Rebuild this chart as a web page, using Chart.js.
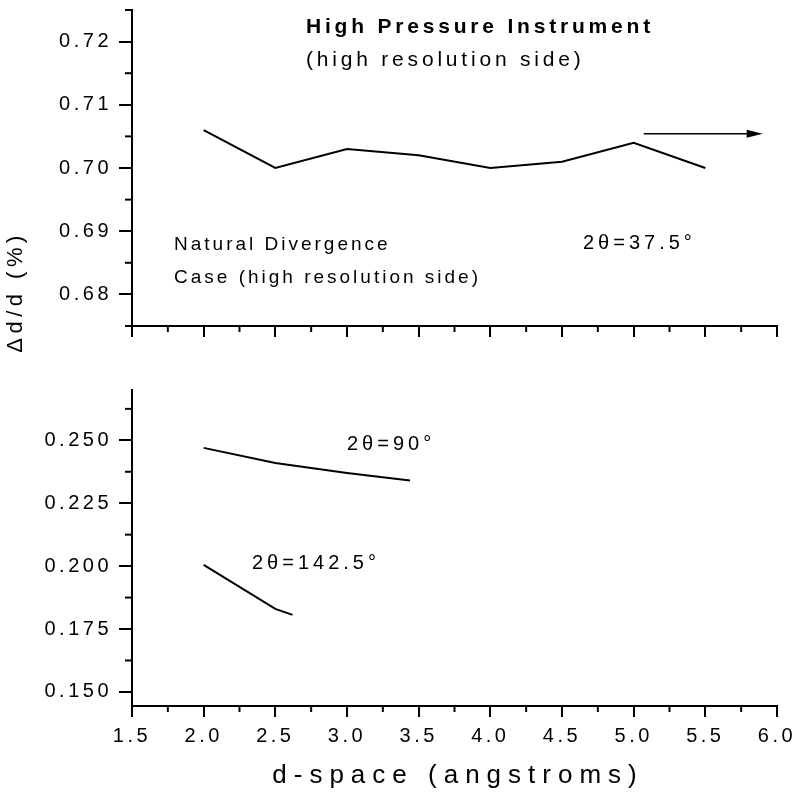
<!DOCTYPE html>
<html>
<head>
<meta charset="utf-8">
<script src="https://cdn.jsdelivr.net/npm/chart.js@4/dist/chart.umd.min.js"></script>
<style>
  html, body { margin: 0; padding: 0; background: #fff; }
  #wrap { position: relative; width: 796px; height: 792px; }
  #wrap canvas { position: absolute; left: 0; top: 0; }
</style>
</head>
<body>
<div id="wrap">
  <canvas id="chartTop" width="796" height="792"></canvas>
  <canvas id="chartBottom" width="796" height="792"></canvas>
</div>
<script>
// values
var dSpace375 = [2.0, 2.5, 3.0, 3.5, 4.0, 4.5, 5.0, 5.5];
var res375    = [0.706, 0.700, 0.703, 0.702, 0.700, 0.701, 0.704, 0.700];
var dSpace90  = [2.0, 2.5, 3.0, 3.44];
var res90     = [0.247, 0.241, 0.237, 0.234];
var dSpace1425 = [2.0, 2.5, 2.62];
var res1425    = [0.2005, 0.183, 0.1806];

// arrow pointing to the right-hand axis (data coords)
var arrowX = [5.07, 5.9];
var arrowY = [0.7054, 0.7054];

// axes
var xRange = [1.5, 6.0];
var xTicks = [1.5, 2.0, 2.5, 3.0, 3.5, 4.0, 4.5, 5.0, 5.5, 6.0];
var topRange = [0.675, 0.725];
var topTicks = [0.68, 0.69, 0.70, 0.71, 0.72];
var bottomRange = [0.1444, 0.270];
var bottomTicks = [0.150, 0.175, 0.200, 0.225, 0.250];

var FONT = '"Liberation Sans", Arial, Helvetica, sans-serif';
var TICK_SPACING = "3.5px";
Chart.defaults.font.family = FONT;
Chart.defaults.color = "#000";

function pts(xs, ys) { return xs.map(function (x, i) { return { x: x, y: ys[i] }; }); }

function lineSet(xs, ys) {
  return { data: pts(xs, ys), showLine: true, borderColor: "#000", borderWidth: 2,
           pointRadius: 0, tension: 0, fill: false };
}

function noPad(scale) { scale.paddingTop = 0; scale.paddingBottom = 0; scale.paddingLeft = 0; scale.paddingRight = 0; }

// the old plot has wide letter spacing on its tick labels
var spacing = {
  id: "spacing",
  beforeUpdate: function (chart) { chart.ctx.letterSpacing = TICK_SPACING; },
  beforeDraw: function (chart) { chart.ctx.letterSpacing = TICK_SPACING; }
};

// short ticks between the labelled ones
var minorTicks = {
  id: "minorTicks",
  afterDraw: function (chart) {
    var ctx = chart.ctx, a = chart.chartArea;
    ctx.save();
    ctx.strokeStyle = "#000";
    ctx.lineWidth = 2;
    function each(scale, ticks, fn) {
      var step = ticks[1] - ticks[0];
      for (var v = ticks[0] - step / 2; v <= scale.max + 1e-9; v += step) {
        if (v >= scale.min - 1e-9) fn(scale.getPixelForValue(v));
      }
    }
    each(chart.scales.x, xTicks, function (px) {
      ctx.beginPath(); ctx.moveTo(px, a.bottom); ctx.lineTo(px, a.bottom + 6); ctx.stroke();
    });
    each(chart.scales.y, chart.options.yTickList, function (py) {
      ctx.beginPath(); ctx.moveTo(a.left, py); ctx.lineTo(a.left - 7, py); ctx.stroke();
    });
    ctx.restore();
  }
};

// free text and the arrow
var notes = {
  id: "notes",
  afterDraw: function (chart) {
    var ctx = chart.ctx;
    var o = chart.options.noteList || [];
    ctx.save();
    ctx.fillStyle = "#000";
    ctx.textBaseline = "middle";
    o.forEach(function (n) {
      ctx.save();
      ctx.font = (n.bold ? "bold " : "") + n.size + "px " + FONT;
      ctx.letterSpacing = (n.spacing || 0) + "px";
      ctx.translate(n.x, n.y);
      if (n.rotate) ctx.rotate(n.rotate);
      ctx.textAlign = n.align || "left";
      ctx.fillText(n.text, 0, 0);
      ctx.restore();
    });
    if (chart.options.drawArrow) {
      var xs = chart.scales.x, ys = chart.scales.y;
      var x0 = xs.getPixelForValue(arrowX[0]), x1 = xs.getPixelForValue(arrowX[1]);
      var y0 = ys.getPixelForValue(arrowY[0]), y1 = ys.getPixelForValue(arrowY[1]);
      ctx.strokeStyle = "#000";
      ctx.lineWidth = 1.5;
      ctx.beginPath(); ctx.moveTo(x0, y0); ctx.lineTo(x1 - 10, y1); ctx.stroke();
      ctx.beginPath();
      ctx.moveTo(x1, y1); ctx.lineTo(x1 - 16, y1 - 4); ctx.lineTo(x1 - 16, y1 + 4);
      ctx.closePath(); ctx.fill();
    }
    ctx.restore();
  }
};

function axisBase() {
  return {
    border: { display: true, color: "#000", width: 2 },
    grid: { display: true, drawOnChartArea: false, drawTicks: true, color: "#000",
            tickColor: "#000", tickWidth: 2, lineWidth: 2 }
  };
}

function xAxis(showLabels, height) {
  var ax = axisBase();
  ax.type = "linear";
  ax.min = xRange[0];
  ax.max = xRange[1];
  ax.grid.tickLength = 11;
  ax.afterBuildTicks = function (s) { s.ticks = xTicks.map(function (v) { return { value: v }; }); };
  ax.afterFit = function (s) { s.height = height; noPad(s); };
  ax.ticks = { display: showLabels, padding: 7, maxRotation: 0, autoSkip: false,
               font: { size: 20 }, callback: function (v) { return v.toFixed(1); } };
  return ax;
}

function yAxis(range, ticks, digits) {
  var ax = axisBase();
  ax.type = "linear";
  ax.min = range[0];
  ax.max = range[1];
  ax.grid.tickLength = 13;
  ax.afterBuildTicks = function (s) { s.ticks = ticks.map(function (v) { return { value: v }; }); };
  ax.afterFit = function (s) { s.width = 132; noPad(s); };
  ax.ticks = { padding: 7, font: { size: 20 }, callback: function (v) { return v.toFixed(digits); } };
  return ax;
}

function baseOptions(padTop, padBottom) {
  return {
    responsive: false,
    animation: false,
    devicePixelRatio: 1,
    layout: { padding: { top: padTop, bottom: padBottom, left: 0, right: 19 } },
    plugins: { legend: { display: false }, tooltip: { enabled: false } }
  };
}

var topOpts = baseOptions(10, 446);
topOpts.scales = { x: xAxis(false, 20), y: yAxis(topRange, topTicks, 2) };
topOpts.yTickList = topTicks;
topOpts.drawArrow = true;
topOpts.noteList = [
  { text: "High Pressure Instrument", x: 306, y: 27, size: 21, bold: true, spacing: 3.8 },
  { text: "(high resolution side)", x: 306, y: 60, size: 21, spacing: 3.8 },
  { text: "Natural Divergence", x: 174, y: 245, size: 19, spacing: 3 },
  { text: "Case (high resolution side)", x: 174, y: 278, size: 19, spacing: 3 },
  { text: "2\u03b8=37.5\u00b0", x: 583, y: 243, size: 20, spacing: 4 },
  { text: "\u0394d/d (%)", x: 16, y: 292, size: 22, spacing: 4.5, align: "center", rotate: -Math.PI / 2 }
];

new Chart(document.getElementById("chartTop"), {
  type: "scatter",
  data: { datasets: [lineSet(dSpace375, res375)] },
  options: topOpts,
  plugins: [spacing, minorTicks, notes]
});

var botOpts = baseOptions(390, 0);
botOpts.scales = { x: xAxis(true, 86), y: yAxis(bottomRange, bottomTicks, 3) };
botOpts.yTickList = bottomTicks;
botOpts.noteList = [
  { text: "2\u03b8=90\u00b0", x: 347, y: 444, size: 20, spacing: 4 },
  { text: "2\u03b8=142.5\u00b0", x: 252, y: 563, size: 20, spacing: 4 },
  { text: "d-space (angstroms)", x: 458, y: 776, size: 26, spacing: 7, align: "center" }
];

new Chart(document.getElementById("chartBottom"), {
  type: "scatter",
  data: { datasets: [lineSet(dSpace90, res90), lineSet(dSpace1425, res1425)] },
  options: botOpts,
  plugins: [spacing, minorTicks, notes]
});
</script>
</body>
</html>
